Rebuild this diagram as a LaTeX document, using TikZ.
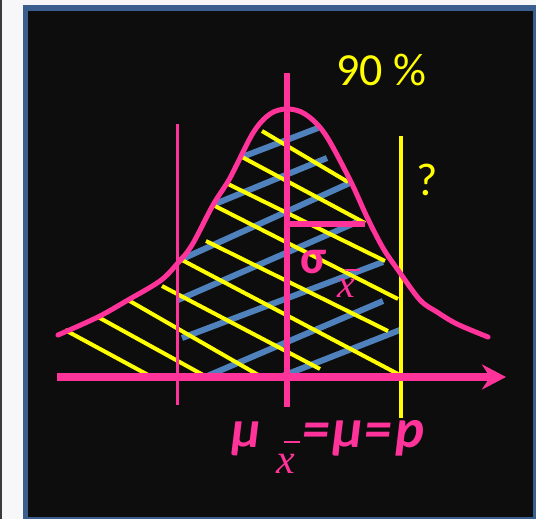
\documentclass[tikz,border=0pt]{standalone}
\usepackage{fontspec}
\setmainfont{Carlito}
\newfontfamily\xserif{Liberation Serif}
\usetikzlibrary{arrows.meta}
\definecolor{pinkc}{HTML}{FF3399}
\definecolor{bluec}{HTML}{4F81BD}
\definecolor{yellowc}{HTML}{FFFF00}
\definecolor{bgc}{HTML}{0D0D0D}
\definecolor{framec}{HTML}{3A5F8E}
\definecolor{pagec}{HTML}{F7F7F9}
\definecolor{edgec}{HTML}{3A3A3A}
\begin{document}
\begin{tikzpicture}[x=1pt,y=-1pt,
  yhatch/.style={yellowc,line width=4pt},
  bhatch/.style={bluec,line width=6pt},
  pinkcurve/.style={pinkc,line width=5pt,line cap=round},
  txt/.style={inner sep=0pt,outer sep=0pt},
  xbar/.style={pinkc,line width=1.6pt}]
\useasboundingbox (0,0) rectangle (536,519);
\fill[pagec] (0,0) rectangle (536,519);
\fill[edgec] (0,0) rectangle (2,519);
\fill[framec] (23,5) rectangle (540,525);
\fill[bgc] (28,11) rectangle (533,517);
% blue hatching
\draw[bhatch] (242,157) -- (318,128);
\draw[bhatch] (215,204) -- (327,158);
\draw[bhatch] (180,260) -- (352,182);
\draw[bhatch] (178,300) -- (357,222);
\draw[bhatch] (182,338) -- (383,262);
\draw[bhatch] (205,377) -- (383,301);
\draw[bhatch] (280,377) -- (400,330);
% yellow hatching
\draw[yhatch] (262,131) -- (348,182);
\draw[yhatch] (242,157) -- (365,223);
\draw[yhatch] (226,183) -- (385,261);
\draw[yhatch] (215,206) -- (398,299);
\draw[yhatch] (206,241) -- (388,331);
\draw[yhatch] (182,260) -- (398,374);
\draw[yhatch] (162,286) -- (320,369);
\draw[yhatch] (128,300) -- (260,376);
\draw[yhatch] (98,317) -- (205,376);
\draw[yhatch] (65,330) -- (150,376);
% vertical lines
\draw[pinkc,line width=3pt] (177,124) -- (177,405);
\draw[yellowc,line width=3.5pt] (401,136) -- (401,418);
\draw[pinkc,line width=6.5pt] (287,73) -- (287,407);
% sigma marker
\draw[pinkc,line width=6pt] (287,224) -- (365,224);
% bell curve
\draw[pinkcurve] plot[smooth,tension=0.55] coordinates {(58,335) (98,317) (128,300) (160,281) (177,264) (192,245) (213,205) (230,178) (253,133) (270,114) (287,109) (305,114) (325,134) (350,180) (367,217) (383,248) (398,270) (420,300) (437,312) (457,324) (488,337)};
% horizontal axis
\draw[pinkc,line width=7.5pt,-{Stealth[length=24pt,width=25pt,inset=8pt]}] (57,377) -- (506,377);
% texts
\node[txt,anchor=base west,text=yellowc,font=\fontsize{46}{46}\selectfont] (pct) at (336,86) {90 \%};
\node[txt,anchor=base,text=yellowc,font=\fontsize{46}{46}\selectfont] (q) at (427,195) {?};
\node[txt,anchor=base west,text=pinkc,font=\fontsize{48}{48}\selectfont\bfseries] (sig) at (300,273) {σ};
\node[txt,anchor=base west,text=pinkc,font=\fontsize{40}{40}\selectfont\xserif\itshape] (sx) at (337,297) {x};
\coordinate (sxa) at (345,270);
\coordinate (sxb) at (360,270);
\draw[xbar] (sxa) -- (sxb);
\node[txt,anchor=base west,text=pinkc,font=\fontsize{53}{53}\selectfont\bfseries\itshape] (mu) at (231,447) {μ};
\node[txt,anchor=base west,text=pinkc,font=\fontsize{42}{42}\selectfont\xserif\itshape] (mx) at (276,473) {x};
\coordinate (mxa) at (284,442);
\coordinate (mxb) at (300,442);
\draw[xbar] (mxa) -- (mxb);
\node[txt,anchor=base west,text=pinkc,font=\fontsize{55}{55}\selectfont\bfseries\itshape] (eq) at (302,447) {=\kern3pt μ\kern2pt =\kern3pt p};
\end{tikzpicture}
\end{document}
